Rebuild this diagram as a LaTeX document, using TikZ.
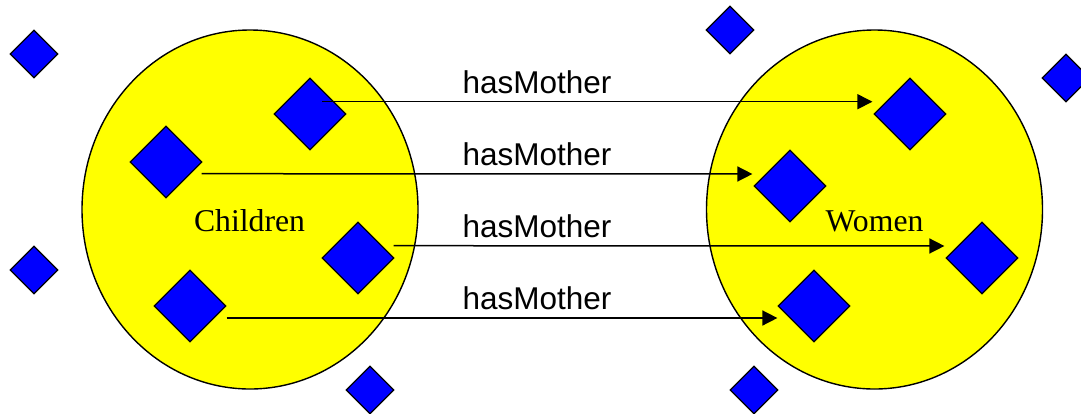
\documentclass[tikz,border=0pt]{standalone}
\usepackage{fontspec}
\setmainfont{Liberation Serif}
\newfontfamily\arialf{Liberation Sans}
\usetikzlibrary{shapes.geometric,arrows.meta}
\definecolor{setyellow}{HTML}{FFFF00}
\definecolor{elemblue}{HTML}{0000FF}
\begin{document}
\begin{tikzpicture}[x=1pt,y=-1pt,
  setnode/.style={ellipse,draw=black,line width=1.4pt,fill=setyellow,inner sep=0pt,minimum width=336pt,minimum height=359pt},
  bigdia/.style={diamond,draw=black,line width=1.2pt,fill=elemblue,inner sep=0pt,minimum width=72pt,minimum height=72pt},
  smalldia/.style={diamond,draw=black,line width=1.2pt,fill=elemblue,inner sep=0pt,minimum width=48pt,minimum height=48pt},
  relarrow/.style={draw=black,line width=1.5pt,-{Triangle[length=15pt,width=15pt]}},
  rellabel/.style={font=\arialf\fontsize{31.5}{36}\selectfont,anchor=base,inner sep=0pt},
  setlabel/.style={font=\fontsize{31.7}{36}\selectfont,anchor=base,inner sep=0pt}]
\useasboundingbox (0,0) rectangle (1081,413);
% sets
\node[setnode] (children) at (250,209.5) {};
\node[setnode] (women) at (874.5,209.5) {};
\node[setlabel] (childrenlbl) at (249.5,231) {Children};
\node[setlabel] (womenlbl) at (874.5,231) {Women};
% outside elements
\node[smalldia] (s1) at (34,54) {};
\node[smalldia] (s2) at (34,270) {};
\node[smalldia] (s3) at (370,390) {};
\node[smalldia] (s4) at (730,30) {};
\node[smalldia] (s5) at (1066,78) {};
\node[smalldia] (s6) at (754,390) {};
% children
\node[bigdia] (c1) at (310,114) {};
\node[bigdia] (c2) at (166,162) {};
\node[bigdia] (c3) at (358,258) {};
\node[bigdia] (c4) at (190,306) {};
% women
\node[bigdia] (w1) at (910,114) {};
\node[bigdia] (w2) at (790,186) {};
\node[bigdia] (w3) at (982,258) {};
\node[bigdia] (w4) at (814,306) {};
% relations
\draw[relarrow] ([shift={(12,-12.3)}]c1.center) -- ([shift={(-1,-12.3)}]w1.west);
\draw[relarrow] ([shift={(-1,11.7)}]c2.east) -- ([shift={(-1,-12)}]w2.west);
\draw[relarrow] ([shift={(-1,-12.3)}]c3.east) -- ([shift={(-1,-12)}]w3.west);
\draw[relarrow] ([shift={(0,12)}]c4.east) -- ([shift={(0,12)}]w4.west);
\node[rellabel] (l1) at (537,93) {hasMother};
\node[rellabel] (l2) at (537,165) {hasMother};
\node[rellabel] (l3) at (537,237) {hasMother};
\node[rellabel] (l4) at (537,309) {hasMother};
\end{tikzpicture}
\end{document}
